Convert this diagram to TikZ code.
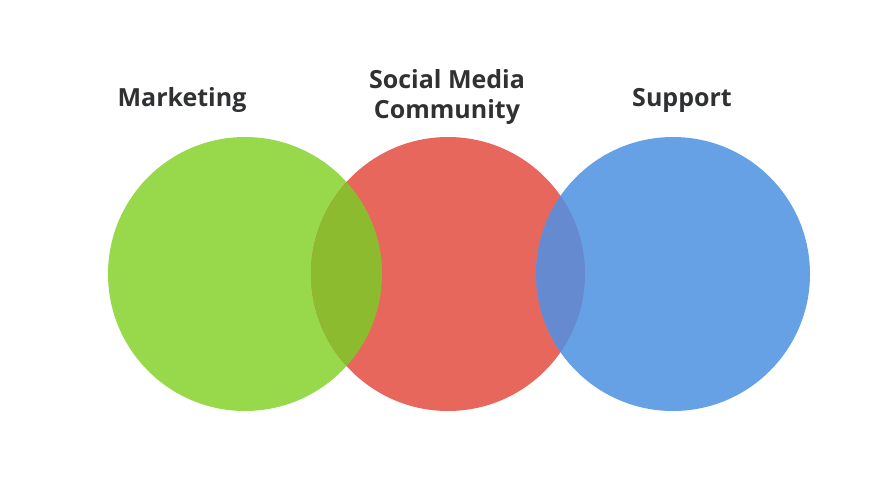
\documentclass[tikz,border=0pt]{standalone}
\usepackage{fontspec}
\setmainfont{Open Sans}
\definecolor{mkgreen}{HTML}{97D94A}
\definecolor{smred}{HTML}{E8675C}
\definecolor{spblue}{HTML}{67A1E5}
\definecolor{olive}{HTML}{8DBB30}
\definecolor{violet}{HTML}{658AD0}
\definecolor{label}{HTML}{2F3133}
\begin{document}
\begin{tikzpicture}[x=1pt,y=-1pt]
  \tikzset{
head/.style={text=label, font=\bfseries\fontsize{25}{30}\selectfont, align=center},
}
  \useasboundingbox (0,0) rectangle (896,493);

  % Circles
  \fill [mkgreen] (245,274) circle (137);
  \fill [smred] (448,274) circle (137);
  \fill [spblue] (673,274) circle (137);
  \begin{scope}
    \clip (245,274) circle (137);
    \fill [olive] (448,274) circle (137);
  \end{scope}
  \begin{scope}
    \clip (448,274) circle (137);
    \fill [violet] (673,274) circle (137);
  \end{scope}

  % Labels
  \node [head] (mark) at (182,100) {Marketing};
  \node [head] (social) at (447,97) {Social Media\\Community};
  \node [head] (supp) at (682,100) {Support};
\end{tikzpicture}
\end{document}
